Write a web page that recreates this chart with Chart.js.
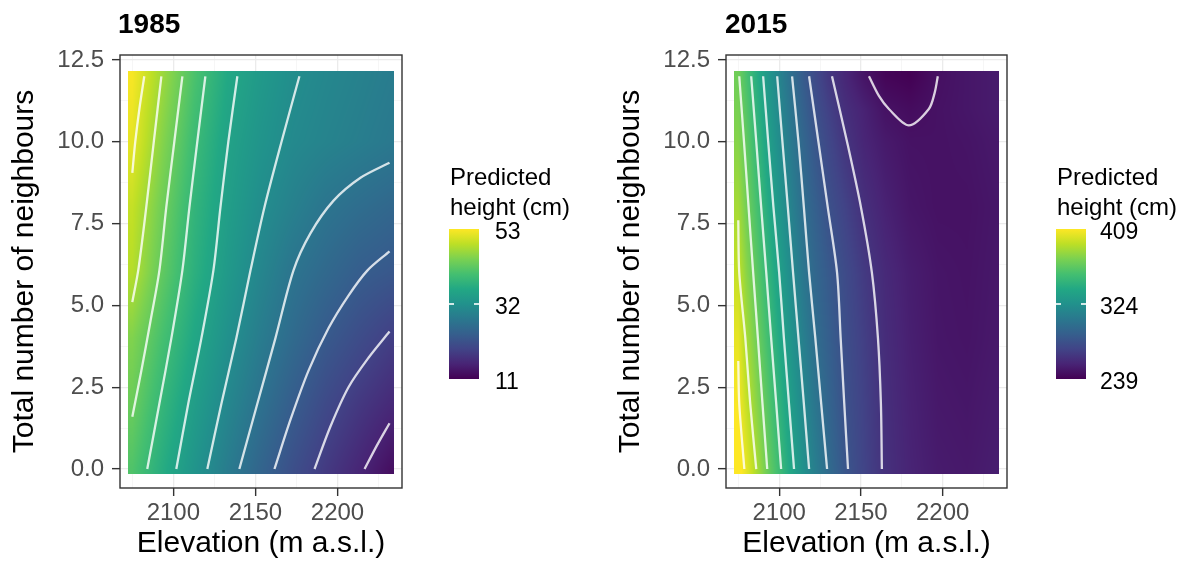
<!DOCTYPE html>
<html><head><meta charset="utf-8">
<script src="https://cdn.jsdelivr.net/npm/chart.js@4.4.1/dist/chart.umd.min.js"></script>
<style>
html,body{margin:0;padding:0;background:#fff;width:1184px;height:569px;overflow:hidden;font-family:"Liberation Sans",Arial,Helvetica,sans-serif;}
#wrap{position:relative;width:1184px;height:569px;}
canvas{position:absolute;top:0;}
.ptitle{position:absolute;font-weight:bold;font-size:28px;line-height:28px;color:#000;white-space:nowrap;}
.ltitle{position:absolute;font-size:24px;line-height:30px;color:#000;white-space:nowrap;}
.lbar{position:absolute;width:30px;}
.llab{position:absolute;font-size:23px;line-height:24px;color:#000;white-space:nowrap;}
.ltick{position:absolute;width:5px;height:2px;background:rgba(255,255,255,0.8);}
</style></head><body><div id="wrap">
<canvas id="c1" width="592" height="569" style="left:0;width:592px;height:569px"></canvas>
<canvas id="c2" width="578" height="569" style="left:606px;width:578px;height:569px"></canvas>
</div>
<script>
// ---------- DATA ----------
const xMajor = [2100, 2150, 2200];
const xMinor = [2075, 2125, 2175, 2225];
const yMajor = [0, 2.5, 5, 7.5, 10, 12.5];
const yLabels = ["0.0", "2.5", "5.0", "7.5", "10.0", "12.5"];
const yMinor = [1.25, 3.75, 6.25, 8.75, 11.25];

// 1985 predicted height grid (cm), rows = neighbours, cols = elevation
const elev1985 = [2075, 2093, 2113, 2133, 2153, 2173, 2193, 2213, 2232];
const nb1985 = [0, 2, 4, 6, 8, 10, 12];
const height1985 = [
  [41.3, 37.0, 32.6, 28.5, 24.6, 21.1, 18.1, 15.5, 12.8],
  [43.4, 38.7, 34.2, 30.3, 26.7, 23.3, 20.3, 17.9, 16.0],
  [45.0, 40.6, 35.9, 32.0, 28.5, 25.5, 22.8, 20.7, 18.8],
  [48.3, 42.7, 37.5, 33.5, 30.1, 27.1, 25.2, 23.4, 22.5],
  [49.3, 43.9, 38.3, 34.4, 31.4, 29.2, 27.2, 26.0, 25.0],
  [51.5, 45.4, 39.5, 35.1, 32.6, 30.7, 29.7, 28.8, 27.9],
  [52.6, 46.9, 40.9, 36.2, 33.5, 31.4, 30.3, 29.4, 28.5]
];
const legend1985 = [53, 32, 11];

// 1985 contour lines [elevation, neighbours]
const contours1985 = [
  [[2082.3,12],[2079.3,11],[2076.8,10],[2075.0,9.05]],
  [[2092.7,12],[2088.1,10],[2083.5,8],[2078.7,6.1],[2075.0,5.1]],
  [[2105.5,12],[2100.6,10],[2095.7,8],[2091.5,6.07],[2086.0,4.5],[2080.5,3],[2075.0,1.6]],
  [[2119.5,12],[2114.6,10],[2109.8,8],[2105.5,6.07],[2098.8,4],[2091.5,2],[2084.1,0]],
  [[2139.0,12],[2133.5,10],[2128.7,8],[2124.4,6.07],[2117.1,4],[2109.1,2],[2101.8,0]],
  [[2176.8,12],[2165.9,10],[2155.5,8],[2147.0,6.07],[2138.4,4],[2129.3,2],[2120.7,0]],
  [[2231.7,9.36],[2214.0,8.9],[2197.6,8.2],[2183.5,7.2],[2173.2,6.07],[2162.2,4],[2151.2,2],[2140.2,0]],
  [[2161.6,0],[2171.3,1.5],[2182.3,3],[2194.5,4.3],[2206.7,5.3],[2218.3,6.07],[2231.7,6.65]],
  [[2186.0,0],[2195.7,1.3],[2206.7,2.5],[2218.9,3.4],[2231.7,4.2]],
  [[2216.5,0],[2223.8,0.7],[2231.7,1.4]]
];

// 2015 predicted height grid (cm)
const elev2015 = [2075, 2080, 2087, 2094, 2101, 2108, 2115, 2122, 2130, 2140, 2152, 2165, 2180, 2197, 2215, 2232];
const nb2015 = [0, 2, 4, 6, 8, 10, 11, 12];
const height2015 = [
  [413.0, 402.7, 385.4, 367.7, 353.2, 337.4, 323.5, 311.1, 298.3, 284.4, 273.0, 262.7, 256.0, 251.6, 250.4, 252.7],
  [408.0, 394.3, 377.1, 361.5, 346.3, 331.0, 317.2, 305.5, 294.0, 281.4, 271.9, 261.6, 254.9, 250.4, 249.3, 251.6],
  [403.0, 386.5, 370.4, 355.1, 339.2, 324.7, 311.5, 299.6, 290.3, 279.7, 270.3, 260.4, 253.8, 249.3, 248.2, 250.4],
  [394.0, 379.1, 364.0, 348.3, 332.9, 318.2, 305.3, 295.4, 287.1, 277.7, 267.7, 258.8, 252.7, 248.8, 247.7, 249.9],
  [386.0, 372.7, 357.3, 340.8, 325.9, 312.2, 299.4, 290.9, 281.2, 272.6, 262.1, 254.9, 249.3, 247.1, 247.1, 249.3],
  [378.0, 366.8, 350.1, 333.4, 319.2, 306.2, 294.7, 284.4, 275.4, 265.4, 256.6, 251.0, 247.4, 247.1, 248.2, 250.4],
  [374.5, 363.3, 346.4, 330.2, 316.1, 302.9, 291.2, 280.6, 271.6, 262.0, 254.9, 247.1, 244.3, 247.1, 249.3, 251.6],
  [371.5, 359.8, 342.8, 327.0, 312.9, 299.2, 287.2, 276.9, 266.7, 257.8, 248.2, 241.0, 239.0, 246.0, 249.3, 251.6]
];
const legend2015 = [409, 324, 239];

const contours2015 = [
  [[2075.0,3.3],[2075.6,2],[2078.7,0]],
  [[2075.0,7.6],[2075.6,6],[2079.3,4],[2082.3,2],[2086.0,0]],
  [[2075.6,12],[2078.5,10],[2081.3,8],[2084.1,6],[2087.0,4],[2089.8,2],[2092.7,0]],
  [[2082.9,12],[2086.0,10],[2089.0,8],[2092.1,6],[2095.1,4],[2098.2,2],[2101.2,0]],
  [[2090.2,12],[2093.3,10],[2096.5,8],[2100.0,6],[2102.9,4],[2106.0,2],[2109.1,0]],
  [[2098.8,12],[2102.0,10],[2105.3,8],[2108.5,6],[2111.8,4],[2115.1,2],[2118.3,0]],
  [[2107.9,12],[2111.8,10],[2115.1,8],[2118.3,6],[2122.1,4],[2125.7,2],[2129.3,0]],
  [[2118.3,12],[2124.0,10],[2129.7,8],[2135.4,6],[2137.6,4],[2139.8,2],[2142.1,0]],
  [[2132.3,12],[2141.5,10],[2150.0,8],[2156.7,6],[2160.4,4],[2162.2,2],[2162.8,0]],
  [[2154.9,12],[2161.0,11.4],[2167.1,11],[2179.3,10.5],[2191.5,11],[2195.1,11.5],[2197.0,12]]
];

// ---------- STYLE / HELPERS ----------
const FONT = '"Liberation Sans", Arial, Helvetica, sans-serif';
const VIRIDIS = ['#440154','#482475','#414487','#355f8d','#2a788e','#21918c','#22a884','#44bf70','#7ad151','#bddf26','#fde725'];
const VRGB = VIRIDIS.map(h => [parseInt(h.slice(1,3),16), parseInt(h.slice(3,5),16), parseInt(h.slice(5,7),16)]);
function viridis(t) {
  t = Math.max(0, Math.min(1, t));
  const f = t * (VRGB.length - 1), i = Math.min(VRGB.length - 2, Math.floor(f)), u = f - i;
  const a = VRGB[i], b = VRGB[i+1];
  return [a[0]+(b[0]-a[0])*u, a[1]+(b[1]-a[1])*u, a[2]+(b[2]-a[2])*u];
}
function seg(arr, v) {
  if (v <= arr[0]) return [0, 0];
  if (v >= arr[arr.length-1]) return [arr.length-2, 1];
  let i = 0; while (v > arr[i+1]) i++;
  return [i, (v - arr[i]) / (arr[i+1] - arr[i])];
}
function sample(xs, ys, g, x, y) {
  const [i, u] = seg(xs, x), [j, w] = seg(ys, y);
  const a = g[j][i], b = g[j][i+1], c = g[j+1][i], d = g[j+1][i+1];
  return (a*(1-u) + b*u) * (1-w) + (c*(1-u) + d*u) * w;
}

const rasterPlugin = {
  id: 'raster',
  beforeDatasetsDraw(chart) {
    const o = chart.options.plugins.raster;
    const sx = chart.scales.x, sy = chart.scales.y, ctx = chart.ctx;
    const px0 = Math.round(sx.getPixelForValue(o.xs[0] - o.halfX));
    const px1 = Math.round(sx.getPixelForValue(o.xs[o.xs.length-1] + o.halfX));
    const py0 = Math.round(sy.getPixelForValue(o.ys[o.ys.length-1] + o.halfY));
    const py1 = Math.round(sy.getPixelForValue(o.ys[0] - o.halfY));
    const w = px1 - px0, h = py1 - py0;
    const img = ctx.createImageData(w, h);
    for (let j = 0; j < h; j++) {
      const yv = sy.getValueForPixel(py0 + j + 0.5);
      for (let i = 0; i < w; i++) {
        const xv = sx.getValueForPixel(px0 + i + 0.5);
        const v = sample(o.xs, o.ys, o.grid, xv, yv);
        const c = viridis((v - o.vmin) / (o.vmax - o.vmin));
        const k = (j * w + i) * 4;
        img.data[k] = c[0]; img.data[k+1] = c[1]; img.data[k+2] = c[2]; img.data[k+3] = 255;
      }
    }
    const off = document.createElement('canvas'); off.width = w; off.height = h;
    off.getContext('2d').putImageData(img, 0, 0);
    ctx.drawImage(off, px0, py0);
  },
  afterDraw(chart) {
    const a = chart.chartArea, ctx = chart.ctx;
    ctx.save(); ctx.strokeStyle = '#333333'; ctx.lineWidth = 1.4;
    ctx.strokeRect(a.left, a.top, a.right - a.left, a.bottom - a.top);
    ctx.restore();
  }
};

function makeChart(id, xs, ys, grid, contours, legendVals, rightPad) {
  const allX = xMajor.concat(xMinor).sort((a,b)=>a-b);
  const allY = yMajor.concat(yMinor).sort((a,b)=>a-b);
  const datasets = contours.map(line => ({
    type: 'scatter', data: line.map(p => ({x: p[0], y: p[1]})),
    showLine: true, pointRadius: 0, borderColor: 'rgba(255,255,255,0.8)', borderWidth: 2.3, tension: 0.3, fill: false
  }));
  return new Chart(document.getElementById(id), {
    type: 'scatter',
    data: { datasets },
    plugins: [rasterPlugin],
    options: {
      responsive: false, animation: false, devicePixelRatio: 1,
      layout: { padding: { left: 0, right: rightPad, top: 55, bottom: 0 } },
      plugins: {
        legend: { display: false }, tooltip: { enabled: false },
        raster: { xs, ys, grid, halfX: 2.5, halfY: 0.15, vmin: legendVals[2], vmax: legendVals[0] }
      },
      scales: {
        x: {
          type: 'linear', min: 2067.5, max: 2239.3,
          afterBuildTicks: s => { s.ticks = allX.map(v => ({ value: v })); },
          afterFit: s => { s.height = 81; },
          ticks: { autoSkip: false, maxRotation: 0, padding: 3, color: '#4D4D4D', font: { family: FONT, size: 24 },
            callback: v => xMajor.includes(v) ? String(v) : '' },
          grid: { color: c => xMajor.includes(c.tick && c.tick.value) ? '#EBEBEB' : '#F4F4F4',
                  lineWidth: c => xMajor.includes(c.tick && c.tick.value) ? 1.3 : 0.8,
                  tickColor: c => xMajor.includes(c.tick && c.tick.value) ? '#333333' : 'rgba(0,0,0,0)',
                  tickLength: 8, tickWidth: 1.4 },
          border: { display: false },
          title: { display: true, text: 'Elevation (m a.s.l.)', color: '#000', font: { family: FONT, size: 30 }, padding: { top: 0, bottom: 7 } }
        },
        y: {
          type: 'linear', min: -0.58, max: 12.65,
          afterBuildTicks: s => { s.ticks = allY.map(v => ({ value: v })); },
          afterFit: s => { s.width = 120; },
          ticks: { autoSkip: false, padding: 8, color: '#4D4D4D', font: { family: FONT, size: 24 },
            callback: v => { const k = yMajor.indexOf(v); return k >= 0 ? yLabels[k] : ''; } },
          grid: { color: c => yMajor.includes(c.tick && c.tick.value) ? '#EBEBEB' : '#F4F4F4',
                  lineWidth: c => yMajor.includes(c.tick && c.tick.value) ? 1.3 : 0.8,
                  tickColor: c => yMajor.includes(c.tick && c.tick.value) ? '#333333' : 'rgba(0,0,0,0)',
                  tickLength: 8, tickWidth: 1.4 },
          border: { display: false },
          title: { display: true, text: 'Total number of neighbours', color: '#000', font: { family: FONT, size: 30 }, padding: { top: 7, bottom: 0 } }
        }
      }
    }
  });
}

makeChart('c1', elev1985, nb1985, height1985, contours1985, legend1985, 190);
makeChart('c2', elev2015, nb2015, height2015, contours2015, legend2015, 177);

// ---------- TITLES & LEGENDS (HTML text) ----------
const wrap = document.getElementById('wrap');
function addDiv(cls, text, left, top, extra) {
  const d = document.createElement('div'); d.className = cls;
  if (text !== null) d.innerHTML = text;
  d.style.left = left + 'px'; d.style.top = top + 'px';
  if (extra) Object.assign(d.style, extra);
  wrap.appendChild(d); return d;
}
function addLegend(x0, labX, vals) {
  addDiv('ltitle', 'Predicted<br>height (cm)', x0 + 1, 162);
  const barTop = 229, barH = 150;
  const grad = 'linear-gradient(to top,' + VIRIDIS.map((c, i) => c + ' ' + (i * 10) + '%').join(',') + ')';
  addDiv('lbar', null, x0, barTop, { height: barH + 'px', background: grad });
  const vmax = vals[0], vmin = vals[2];
  vals.forEach(v => {
    const yc = barTop + (vmax - v) / (vmax - vmin) * barH;
    addDiv('llab', String(v), labX, Math.round(yc + 2 - 11.8));
    if (v !== vmax && v !== vmin) {
      addDiv('ltick', null, x0, Math.round(yc - 1));
      addDiv('ltick', null, x0 + 25, Math.round(yc - 1));
    }
  });
}
addDiv('ptitle', '1985', 118, 10);
addDiv('ptitle', '2015', 725, 10);
addLegend(449, 495, legend1985);
addLegend(1056, 1100, legend2015);
</script>
</body></html>
